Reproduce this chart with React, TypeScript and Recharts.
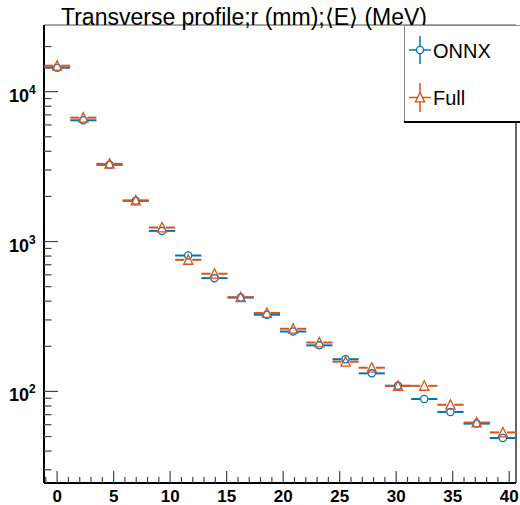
import { ComposedChart, Scatter, XAxis, YAxis } from "recharts";

// bin centres in mm
const R_BINS = [0, 2.32, 4.64, 6.96, 9.28, 11.6, 13.92, 16.24, 18.56, 20.88, 23.2, 25.52, 27.84, 30.16, 32.48, 34.8, 37.12, 39.44];
const ONNX = [14450, 6440, 3250, 1870, 1178, 807, 570, 423, 325, 251, 203, 164, 132, 109, 89, 73, 61, 48.9];
const FULL = [14900, 6710, 3300, 1880, 1240, 755, 610, 425, 334, 262, 212, 158, 144, 109, 109, 81.5, 62, 53.3];
const BIN_WIDTH = 2.32;

const X_MIN = -1.16;
const X_MAX = 40.6;
const Y_MIN = 24.5;
const Y_MAX = 27840;

const X_TICKS = Array.from({ length: 42 }, (_, i) => i - 1);
const Y_TICKS = [30, 40, 50, 60, 70, 80, 90, 100, 200, 300, 400, 500, 600, 700, 800, 900, 1000, 2000, 3000, 4000, 5000, 6000, 7000, 8000, 9000, 10000, 20000];

const W = 520;
const H = 505;
// plot area: x 44..516, y 25..483 (axes take up the rest)
const M = { top: 24, right: 3, bottom: 0, left: 0 };
const PLOT_W = 472;
const HALF_BIN_PX = (BIN_WIDTH / 2) * (PLOT_W / (X_MAX - X_MIN));

const BLUE = "#0072BD";
const ORANGE = "#D95319";
const FONT = '"Liberation Sans", Arial, Helvetica, sans-serif';

const onnxData = R_BINS.map((x, i) => ({ x, y: ONNX[i] }));
const fullData = R_BINS.map((x, i) => ({ x, y: FULL[i] }));

const Marker = ({ cx, cy, kind, color }: { cx: number; cy: number; kind: string; color: string }) =>
  kind === "circle" ? (
    <circle cx={cx} cy={cy} r={3.6} fill="none" stroke={color} strokeWidth={1.3} />
  ) : (
    <polygon
      points={`${cx},${cy - 5} ${cx - 4.6},${cy + 4.4} ${cx + 4.6},${cy + 4.4}`}
      fill="none"
      stroke={color}
      strokeWidth={1.3}
    />
  );

const binShape = (kind: string, color: string) => (props: any) => {
  const { cx, cy } = props;
  if (cx == null || cy == null) return <g />;
  const gap = 4;
  return (
    <g>
      <line x1={cx - HALF_BIN_PX} x2={cx - gap} y1={cy} y2={cy} stroke={color} strokeWidth={2} />
      <line x1={cx + gap} x2={cx + HALF_BIN_PX} y1={cy} y2={cy} stroke={color} strokeWidth={2} />
      <Marker cx={cx} cy={cy} kind={kind} color={color} />
    </g>
  );
};

const XTick = (props: any) => {
  const { x, y, payload } = props;
  const v = payload.value;
  const major = v % 5 === 0;
  return (
    <g>
      <line x1={x} x2={x} y1={y} y2={y - (major ? 12 : 6)} stroke="#444" strokeWidth={1.2} />
      {major && v >= 0 && (
        <text x={x} y={y + 19} textAnchor="middle" fontFamily={FONT} fontWeight="bold" fontSize={17} fill="#000">
          {v}
        </text>
      )}
    </g>
  );
};

const YTick = (props: any) => {
  const { x, y, payload } = props;
  const v = payload.value;
  const exp = Math.log10(v);
  const major = Math.abs(exp - Math.round(exp)) < 1e-9;
  return (
    <g>
      <line x1={x} x2={x + (major ? 14 : 7.5)} y1={y} y2={y} stroke="#444" strokeWidth={1.2} />
      {major && (
        <text x={9} y={y + 10} fontFamily={FONT} fontWeight="bold" fontSize={18} fill="#000">
          10
          <tspan dy={-8} fontSize={12}>
            {Math.round(exp)}
          </tspan>
        </text>
      )}
    </g>
  );
};

export default function App() {
  return (
    <div style={{ position: "absolute", left: 0, top: 0, width: W, height: H, background: "#fff" }}>
      <ComposedChart width={W} height={H} margin={M}>
        <XAxis
          dataKey="x"
          type="number"
          domain={[X_MIN, X_MAX]}
          ticks={X_TICKS}
          interval={0}
          height={22}
          tickSize={0}
          tickMargin={0}
          tickLine={false}
          tick={<XTick />}
          axisLine={{ stroke: "#000", strokeWidth: 2 }}
          allowDataOverflow
        />
        <XAxis
          xAxisId="top"
          orientation="top"
          type="number"
          domain={[X_MIN, X_MAX]}
          height={1}
          tick={false}
          tickLine={false}
          axisLine={{ stroke: "#888", strokeWidth: 1.3 }}
        />
        <YAxis
          dataKey="y"
          type="number"
          scale="log"
          domain={[Y_MIN, Y_MAX]}
          ticks={Y_TICKS}
          interval={0}
          width={44}
          tickSize={0}
          tickMargin={0}
          tickLine={false}
          tick={<YTick />}
          axisLine={{ stroke: "#000", strokeWidth: 2 }}
          allowDataOverflow
        />
        <YAxis
          yAxisId="right"
          orientation="right"
          type="number"
          width={1}
          tick={false}
          tickLine={false}
          axisLine={{ stroke: "#333", strokeWidth: 1.5 }}
        />
        <Scatter data={onnxData} dataKey="y" shape={binShape("circle", BLUE)} isAnimationActive={false} />
        <Scatter data={fullData} dataKey="y" shape={binShape("triangle", ORANGE)} isAnimationActive={false} />
      </ComposedChart>
      <svg width={W} height={H} style={{ position: "absolute", left: 0, top: 0, pointerEvents: "none" }}>
        <text x={61} y={25} fontFamily={FONT} fontSize={23} fill="#000">
          Transverse profile;r (mm);⟨E⟩ (MeV)
        </text>
        <rect x={404.5} y={25.5} width={120} height={96} fill="#fff" stroke="#888" strokeWidth={1} />
        <line x1={404} x2={520} y1={122} y2={122} stroke="#000" strokeWidth={2} />
        <g>
          <line x1={420} x2={420} y1={36} y2={64} stroke={BLUE} strokeWidth={1.5} />
          <line x1={409} x2={431} y1={50} y2={50} stroke={BLUE} strokeWidth={1.5} />
          <circle cx={420} cy={50} r={3.6} fill="#fff" stroke={BLUE} strokeWidth={1.3} />
          <text x={433} y={57.5} fontFamily={FONT} fontSize={20} fill="#000">
            ONNX
          </text>
        </g>
        <g>
          <line x1={420} x2={420} y1={83} y2={112} stroke={ORANGE} strokeWidth={1.5} />
          <line x1={409} x2={431} y1={97.5} y2={97.5} stroke={ORANGE} strokeWidth={1.5} />
          <polygon points="420,92.5 415.4,101.9 424.6,101.9" fill="#fff" stroke={ORANGE} strokeWidth={1.3} />
          <text x={433} y={105} fontFamily={FONT} fontSize={20} fill="#000">
            Full
          </text>
        </g>
      </svg>
    </div>
  );
}
